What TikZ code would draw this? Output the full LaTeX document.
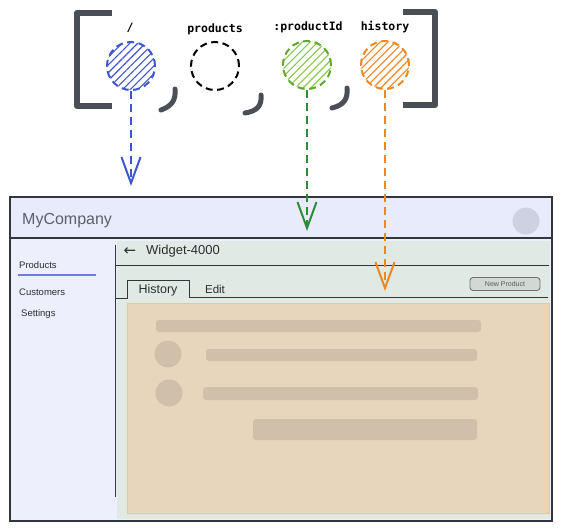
\documentclass[tikz,border=0pt]{standalone}
\usepackage{fontspec}
\setmainfont{Liberation Sans}
\newfontfamily\segfont{DejaVu Sans Mono}
\newfontfamily\symfont{DejaVu Sans}
\usepackage{tikz}
\usetikzlibrary{arrows.meta,patterns.meta}

\definecolor{routeblue}{HTML}{3D55D0}
\definecolor{routegreen}{HTML}{5FA52E}
\definecolor{hatchgreen}{HTML}{86C84A}
\definecolor{linegreen}{HTML}{2E8B3A}
\definecolor{routeorange}{HTML}{F0861E}
\definecolor{bracketgray}{HTML}{4A4F56}
\definecolor{framegray}{HTML}{33363B}
\definecolor{headerfill}{HTML}{E8EBFB}
\definecolor{sidefill}{HTML}{EDEFFD}
\definecolor{panelfill}{HTML}{E0E9E3}
\definecolor{contentfill}{HTML}{E8D6BC}
\definecolor{contentline}{HTML}{EBC3A2}
\definecolor{blockfill}{HTML}{D0C0AA}
\definecolor{avatarfill}{HTML}{CDD2E3}
\definecolor{brandtext}{HTML}{5B606C}
\definecolor{navtext}{HTML}{2B2E33}

\begin{document}
\begin{tikzpicture}
[
x=1pt, y=-1pt,
segment/.style={circle, minimum size=48pt, inner sep=0pt, line width=2pt, dash pattern=on 7pt off 4.5pt},
hatched/.style={pattern={Lines[angle=45,distance=5.5pt,line width=1.1pt]}, pattern color=#1},
seglabel/.style={font=\segfont\bfseries\fontsize{11.5}{13}\selectfont, inner sep=0pt},
bracket/.style={line width=6pt, draw=bracketgray, line join=round},
commastroke/.style={line width=5pt, draw=bracketgray, line cap=round},
route/.style={dash pattern=on 8pt off 5pt, line width=2.2pt, -{Straight Barb[length=26pt,width=19pt,line width=2pt]}},
navitem/.style={anchor=west, inner sep=0pt, font=\fontsize{9.5}{11}\selectfont, text=navtext},
tabtext/.style={inner sep=0pt, font=\fontsize{12.5}{14}\selectfont, text=navtext},
block/.style={fill=blockfill, rounded corners=3pt}
]

\useasboundingbox (0,0) rectangle (563,531);

% route segments
\draw[bracket] (112,13) -- (77,13) -- (77,106) -- (112,106);
\draw[bracket] (403,12) -- (435,12) -- (435,105) -- (403,105);
\draw[commastroke] (175,89) .. controls (176,100) and (172,106) .. (161,110);
\draw[commastroke] (261,95) .. controls (262,106) and (257,111) .. (245,113);
\draw[commastroke] (347,88) .. controls (348,99) and (344,105) .. (332,108);

\node (root) [segment, draw=routeblue, hatched=routeblue] at (131,66) {};
\node (products) [segment, draw=black] at (215,66) {};
\node (productid) [segment, draw=routegreen, hatched=hatchgreen] at (307,65) {};
\node (history) [segment, draw=routeorange, hatched=routeorange] at (385,65) {};

\node (rootlabel) [seglabel] at (130,28) {/};
\node (productslabel) [seglabel] at (215,29) {products};
\node (productidlabel) [seglabel] at (308,27) {:productId};
\node (historylabel) [seglabel] at (385,27) {history};

% app window
\draw[line width=1.3pt, draw=framegray, fill=sidefill] (10,197) rectangle (552,521);
\draw[line width=1.3pt, draw=framegray, fill=headerfill] (10,197) rectangle (552,238);
\fill[panelfill] (117,241) rectangle (550,519);
\draw[line width=1.3pt, draw=framegray] (10,197) rectangle (552,521);

\node (brand) [anchor=west, inner sep=0pt, font=\fontsize{16}{18}\selectfont, text=brandtext] at (22,221) {MyCompany};
\node (avatar) [circle, fill=avatarfill, minimum size=27pt, inner sep=0pt] at (526,221) {};

\node (navproducts) [navitem] at (19,265) {Products};
\node (navcustomers) [navitem] at (19,292) {Customers};
\node (navsettings) [navitem] at (21,314) {Settings};
\draw[routeblue!75, line width=1.3pt] (18,275) -- (96,275);
\draw[framegray, line width=1pt] (115,245) -- (115,497);

\node (back) [inner sep=0pt, font=\symfont\fontsize{15}{16}\selectfont, text=navtext] at (130,252) {←};
\node (title) [anchor=west, inner sep=0pt, font=\fontsize{13}{15}\selectfont, text=navtext] at (146,251) {Widget-4000};
\draw[framegray, line width=0.9pt] (115,265) -- (549,265);

\draw[framegray, line width=0.8pt] (115,298) -- (127,298) -- (127,280) -- (189,280) -- (189,297) -- (548,297);
\node (historytab) [tabtext] at (158,290) {History};
\node (edittab) [tabtext, font=\fontsize{11.5}{13}\selectfont] at (215,289) {Edit};
\node (newproduct) [draw=framegray!70, line width=0.9pt, fill=panelfill!85!gray, rounded corners=3pt, minimum width=70pt, minimum height=13pt, inner sep=0pt, font=\fontsize{7}{8}\selectfont, text=navtext!80] at (505,284) {New Product};

\draw[draw=contentline, fill=contentfill, line width=1pt] (127,303) rectangle (549,513);
\fill[block] (156,320) rectangle (481,332);
\fill[block] (206,349) rectangle (477,361);
\fill[block] (203,387) rectangle (478,400);
\fill[block] (253,419) rectangle (477,440);
\node (dot1) [circle, fill=blockfill, minimum size=27pt, inner sep=0pt] at (168,354) {};
\node (dot2) [circle, fill=blockfill, minimum size=27pt, inner sep=0pt] at (169,393) {};

% routes to views
\coordinate (rootend) at (131,186);
\coordinate (productidend) at (307,231);
\coordinate (historyend) at (385,291);
\draw[route, routeblue] (root) -- (rootend);
\draw[route, linegreen] (productid) -- (productidend);
\draw[route, routeorange] (history) -- (historyend);
\end{tikzpicture}
\end{document}
